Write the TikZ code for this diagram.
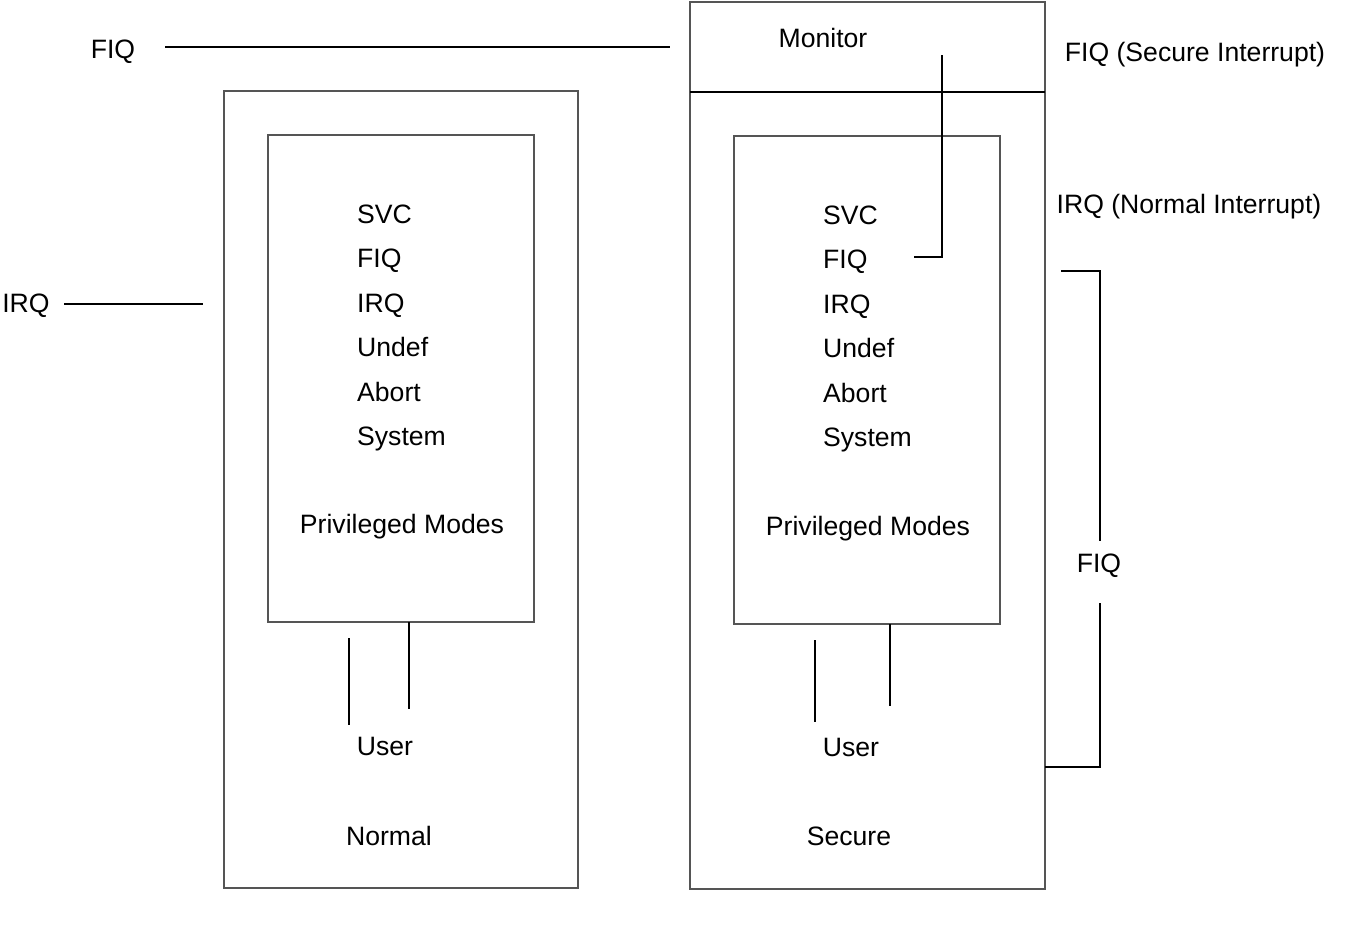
\documentclass[tikz,border=0pt]{standalone}
\usepackage{fontspec}
\setmainfont{Liberation Sans}
\begin{document}
\begin{tikzpicture}[x=1pt,y=-1pt,
  box/.style={draw=boxgray,line width=1.6pt,inner sep=0pt,outer sep=0pt,rectangle},
  wire/.style={draw=black,line width=2.2pt},
  lbl/.style={inner sep=0pt,font=\fontsize{26.6}{31}\selectfont},
  lw/.style={lbl,anchor=base west},
  lc/.style={lbl,anchor=base}]
\definecolor{boxgray}{HTML}{555555}
\useasboundingbox (0,0) rectangle (1345,927);
% boxes
\node[box,minimum width=354,minimum height=797] (normal) at (401,489.5) {};
\node[box,minimum width=266,minimum height=487] (ninner) at (401,378.5) {};
\node[box,minimum width=355,minimum height=887] (secure) at (867.5,445.5) {};
\node[box,minimum width=266,minimum height=488] (sinner) at (867,380) {};
\coordinate (monL) at (690,92);
\coordinate (monR) at (1045,92);
\draw[line width=1.8pt] (monL) -- (monR);
% normal texts
\node[lw] (nsvc) at (357,223) {SVC};
\node[lw] (nfiq) at (357,267.5) {FIQ};
\node[lw] (nirq) at (357,312) {IRQ};
\node[lw] (nund) at (357,356.5) {Undef};
\node[lw] (nabt) at (357,401) {Abort};
\node[lw] (nsys) at (357,445.5) {System};
\node[lc] (npriv) at (402,533.5) {Privileged Modes};
\node[lc] (nuser) at (385,755.5) {User};
\node[lc] (nname) at (389,845.5) {Normal};
% secure texts
\node[lw] (ssvc) at (823,224) {SVC};
\node[lw] (sfiq) at (823,268.5) {FIQ};
\node[lw] (sirq) at (823,313) {IRQ};
\node[lw] (sund) at (823,357.5) {Undef};
\node[lw] (sabt) at (823,402) {Abort};
\node[lw] (ssys) at (823,446.5) {System};
\node[lc] (spriv) at (868,535.5) {Privileged Modes};
\node[lc] (suser) at (851,756.5) {User};
\node[lc] (sname) at (849,845.5) {Secure};
\node[lc] (monitor) at (823,47.5) {Monitor};
% outside labels
\node[lc] (fiqtop) at (113,58.5) {FIQ};
\node[lc] (irqleft) at (26,312.5) {IRQ};
\node[lc] (fiqsec) at (1195,61.5) {FIQ (Secure Interrupt)};
\node[lc] (irqnorm) at (1189,213.5) {IRQ (Normal Interrupt)};
\node[lc] (fiqright) at (1099,572.5) {FIQ};
% wires
\coordinate (f1) at (165,47); \coordinate (f2) at (670,47);
\draw[wire] (f1) -- (f2);
\coordinate (i1) at (64,304); \coordinate (i2) at (203,304);
\draw[wire] (i1) -- (i2);
\coordinate (m1) at (942,55); \coordinate (m2) at (914,257);
\draw[wire] (m1) |- (m2);
\coordinate (nu1a) at (349,638); \coordinate (nu1b) at (349,725);
\coordinate (nu2a) at (409,622); \coordinate (nu2b) at (409,709);
\draw[wire] (nu1a) -- (nu1b);
\draw[wire] (nu2a) -- (nu2b);
\coordinate (su1a) at (815,640); \coordinate (su1b) at (815,722);
\coordinate (su2a) at (890,624); \coordinate (su2b) at (890,706);
\draw[wire] (su1a) -- (su1b);
\draw[wire] (su2a) -- (su2b);
\coordinate (b1) at (1061,271); \coordinate (b2) at (1100,541);
\coordinate (b3) at (1100,603); \coordinate (b4) at (1045,767);
\draw[wire] (b1) -| (b2);
\draw[wire] (b3) |- (b4);
\end{tikzpicture}
\end{document}
